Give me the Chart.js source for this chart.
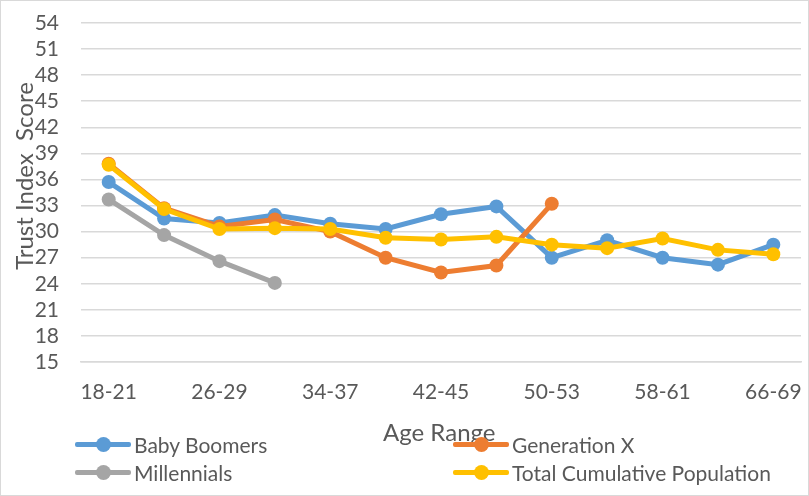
<!DOCTYPE html>
<html>
<head>
<meta charset="utf-8">
<script src="https://cdn.jsdelivr.net/npm/chart.js@4/dist/chart.umd.min.js"></script>
<style>
  html, body { margin:0; padding:0; background:#fff; }
  #wrap { position:relative; width:809px; height:496px; overflow:hidden; }
  #wrap canvas { position:absolute; left:0; top:0; }
  #frame { position:absolute; left:0; top:0; width:807px; height:494px; border:1px solid #D9D9D9; pointer-events:none; }
  .txt { position:absolute; font-family:Lato, "Open Sans", sans-serif; color:#595959; white-space:pre; line-height:1; }
  #ytitle { font-size:24px; left:24px; top:176px; transform:translate(-50%,-50%) rotate(-90deg); }
  #xtitle { font-size:24px; left:383px; top:420px; }
  .leg { position:absolute; height:28px; display:flex; align-items:center; }
  .mk { position:relative; width:56px; height:5px; border-radius:2px; }
  .mk i { position:absolute; left:21px; top:-5px; width:15px; height:15px; border-radius:50%; }
  .leg span { font-family:Lato, "Open Sans", sans-serif; font-size:21px; color:#595959; margin-left:3px; white-space:pre; }
</style>
</head>
<body>
<div id="wrap">
  <canvas id="c" width="809" height="496"></canvas>
  <div id="frame"></div>
  <div class="txt" id="ytitle"></div>
  <div class="txt" id="xtitle"></div>
</div>
<script>
const categories = ["18-21","22-25","26-29","30-33","34-37","38-41","42-45","46-49","50-53","54-57","58-61","62-65","66-69"];
const babyBoomers = [35.7, 31.5, 31.0, 31.9, 30.9, 30.3, 32.0, 32.9, 27.0, 29.0, 27.0, 26.2, 28.5];
const generationX = [37.8, 32.7, 30.6, 31.4, 30.0, 27.0, 25.3, 26.1, 33.2, null, null, null, null];
const millennials = [33.7, 29.6, 26.6, 24.1, null, null, null, null, null, null, null, null, null];
const totalCumulative = [37.7, 32.6, 30.3, 30.4, 30.3, 29.3, 29.1, 29.4, 28.5, 28.1, 29.2, 27.9, 27.4];
const seriesNames = ["Baby Boomers", "Generation X", "Millennials", "Total Cumulative Population"];
const seriesColors = ["#5B9BD5", "#ED7D31", "#A5A5A5", "#FFC000"];
const yMin = 15, yMax = 54, yStep = 3;
const xTitle = "Age Range";
const yTitle = "Trust Index  Score";

document.getElementById('xtitle').textContent = xTitle;
document.getElementById('ytitle').textContent = yTitle;

const FONT = "Lato, 'Open Sans', sans-serif";
const seriesData = [babyBoomers, generationX, millennials, totalCumulative];
const drawOrder = [3, 2, 1, 0];

const datasets = seriesData.map((d, i) => ({
  label: seriesNames[i],
  data: d,
  borderColor: seriesColors[i],
  backgroundColor: seriesColors[i],
  borderWidth: 5,
  pointRadius: 7,
  pointHoverRadius: 7,
  pointBorderWidth: 0,
  pointBackgroundColor: seriesColors[i],
  tension: 0,
  spanGaps: false,
  order: drawOrder[i]
}));

new Chart(document.getElementById('c'), {
  type: 'line',
  data: { labels: categories, datasets },
  options: {
    responsive: false,
    animation: false,
    devicePixelRatio: 1,
    layout: { padding: { left: 0, right: 8, top: 23, bottom: 0 } },
    plugins: { legend: { display: false }, tooltip: { enabled: false } },
    scales: {
      x: {
        offset: true,
        grid: { display: false, drawTicks: false },
        border: { display: true, color: '#D9D9D9', width: 1.5 },
        ticks: {
          autoSkip: false, maxRotation: 0, minRotation: 0, padding: 18,
          color: '#595959', font: { family: FONT, size: 21 },
          callback: (v, i) => (i % 2 === 0 ? categories[i] : '')
        },
        afterFit: s => { s.height = 134; s.paddingLeft = 0; s.paddingRight = 0; }
      },
      y: {
        min: yMin, max: yMax,
        grid: { color: '#D9D9D9', lineWidth: 1.5, drawTicks: false },
        border: { display: false },
        ticks: {
          stepSize: yStep, padding: 22, autoSkip: false,
          color: '#595959', font: { family: FONT, size: 21 }
        },
        afterFit: s => { s.width = 81; s.paddingTop = 0; s.paddingBottom = 0; }
      }
    }
  }
});

const legendPos = [[75, 430], [453, 430], [75, 458], [453, 458]];
const wrap = document.getElementById('wrap');
seriesNames.forEach((n, i) => {
  const d = document.createElement('div');
  d.className = 'leg';
  d.style.left = legendPos[i][0] + 'px';
  d.style.top = legendPos[i][1] + 'px';
  const mk = document.createElement('div');
  mk.className = 'mk';
  mk.style.background = seriesColors[i];
  const dot = document.createElement('i');
  dot.style.background = seriesColors[i];
  mk.appendChild(dot);
  const sp = document.createElement('span');
  sp.textContent = n;
  d.appendChild(mk); d.appendChild(sp);
  wrap.appendChild(d);
});
</script>
</body>
</html>
